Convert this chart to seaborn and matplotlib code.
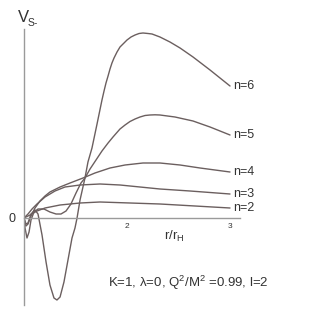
import numpy as np
import pandas as pd
import matplotlib
matplotlib.use('Agg')
import matplotlib.pyplot as plt
import seaborn as sns

# Значения (r/r_H, V в условных единицах)
r_n6 = [1.000, 1.019, 1.039, 1.068, 1.107, 1.136, 1.175, 1.214, 1.252, 1.291, 1.320,
        1.350, 1.388, 1.427, 1.466, 1.495, 1.515, 1.544, 1.592, 1.621, 1.660, 1.709,
        1.757, 1.777, 1.796, 1.816, 1.835, 1.854, 1.874, 1.903, 1.932, 1.971, 2.000,
        2.039, 2.078, 2.117, 2.155, 2.204, 2.243, 2.320, 2.417, 2.515, 2.641, 2.806,
        3.000]
v_n6 = [0.0, -0.6, -0.5, 0.4, 0.8, 0.4, -1.7, -4.4, -6.7, -8.0, -8.2,
        -7.9, -6.4, -4.2, -2.0, -1.0, 0.0, 1.8, 4.0, 5.6, 7.0, 9.4,
        11.8, 12.7, 13.5, 14.2, 14.9, 15.5, 16.0, 16.6, 17.1, 17.5, 17.8,
        18.1, 18.3, 18.45, 18.5, 18.45, 18.4, 18.1, 17.6, 17.0, 16.1, 14.8,
        13.2]

r_n5 = [1.000, 1.010, 1.029, 1.049, 1.068, 1.097, 1.136, 1.194, 1.252, 1.311, 1.359,
        1.408, 1.456, 1.505, 1.553, 1.592, 1.641, 1.699, 1.757, 1.816, 1.864, 1.932,
        1.981, 2.029, 2.078, 2.126, 2.175, 2.223, 2.272, 2.320, 2.393, 2.466, 2.553,
        2.641, 2.723, 2.806, 2.903, 3.000]
v_n5 = [0.0, -1.0, -2.0, -1.4, -0.2, 0.6, 0.9, 0.9, 0.6, 0.4, 0.4,
        0.7, 1.4, 2.5, 3.5, 4.0, 4.9, 5.8, 6.7, 7.5, 8.1, 8.9,
        9.3, 9.65, 9.9, 10.1, 10.25, 10.3, 10.32, 10.3, 10.2, 10.1, 9.9,
        9.7, 9.4, 9.1, 8.7, 8.3]

r_n4 = [1.000, 1.019, 1.039, 1.068, 1.107, 1.155, 1.204, 1.252, 1.350, 1.447, 1.573,
        1.689, 1.835, 1.981, 2.155, 2.320, 2.515, 2.709, 3.000]
v_n4 = [0.0, -0.8, -0.6, 0.2, 1.0, 1.7, 2.2, 2.6, 3.1, 3.5, 4.0,
        4.5, 5.0, 5.3, 5.5, 5.5, 5.3, 5.0, 4.6]

r_n3 = [1.000, 1.039, 1.078, 1.126, 1.204, 1.301, 1.398, 1.544, 1.738, 1.932, 2.126,
        2.320, 2.612, 3.000]
v_n3 = [0.0, 0.4, 0.9, 1.4, 2.1, 2.7, 3.1, 3.3, 3.4, 3.3, 3.1,
        2.9, 2.7, 2.4]

r_n2 = [1.000, 1.058, 1.126, 1.204, 1.350, 1.544, 1.738, 2.029, 2.320, 2.660, 3.000]
v_n2 = [0.0, 0.3, 0.7, 1.0, 1.3, 1.5, 1.6, 1.5, 1.4, 1.2, 1.0]

series = {6: (r_n6, v_n6), 5: (r_n5, v_n5), 4: (r_n4, v_n4),
          3: (r_n3, v_n3), 2: (r_n2, v_n2)}

x_ticks = [2, 3]
x_tick_labels = ['2', '3']

sns.set_style('white')
plt.rcParams['font.family'] = ['Liberation Sans', 'DejaVu Sans']

line_color = '#6b5f5f'
text_color = '#333333'
axis_color = '#9a9a9a'

W, H = 327, 317
fig = plt.figure(figsize=(W / 100, H / 100), dpi=100)
ax = fig.add_axes([24 / W, 12 / H, 216 / W, 276 / H])

for n, (r, v) in series.items():
    sns.lineplot(x=r, y=v, ax=ax, color=line_color, lw=1.0)
    ax.text(r[-1] + 0.03, v[-1], f'n={n}', fontsize=9, color=text_color,
            va='center', ha='left')

ax.set_xlim(1, 3.097)
ax.set_ylim(-8.7, 18.9)

# Оси: вертикальная слева, горизонтальная на нуле
for s in ['top', 'right']:
    ax.spines[s].set_visible(False)
ax.spines['bottom'].set_position(('data', 0))
for s in ['left', 'bottom']:
    ax.spines[s].set_color(axis_color)
    ax.spines[s].set_linewidth(1.0)

ax.set_xticks(x_ticks)
ax.set_xticklabels(x_tick_labels)
ax.tick_params(axis='x', direction='inout', length=3, width=0.8, color=axis_color,
               labelsize=6, labelcolor=text_color, pad=2)
ax.set_yticks([0])
ax.set_yticklabels(['0'])
ax.tick_params(axis='y', direction='out', length=2, width=0.8, color=axis_color,
               labelsize=9, labelcolor=text_color, pad=4)

# Подписи
fig.text(18 / W, 1 - 18 / H, 'V', fontsize=12, color=text_color, va='center', ha='left')
fig.text(28 / W, 1 - 23 / H, 'S-', fontsize=7.5, color=text_color, va='center', ha='left')
fig.text(164 / W, 1 - 236 / H, r'r/r$_{\mathregular{H}}$', fontsize=9.5,
         color=text_color, va='center', ha='left')
fig.text(108 / W, 1 - 283 / H,
         r'K=1, λ=0, Q$^{\mathregular{2}}$/M$^{\mathregular{2}}$ =0.99, l=2',
         fontsize=9.5, color=text_color, va='center', ha='left')

fig.savefig('out.png', dpi=100, facecolor='white')
